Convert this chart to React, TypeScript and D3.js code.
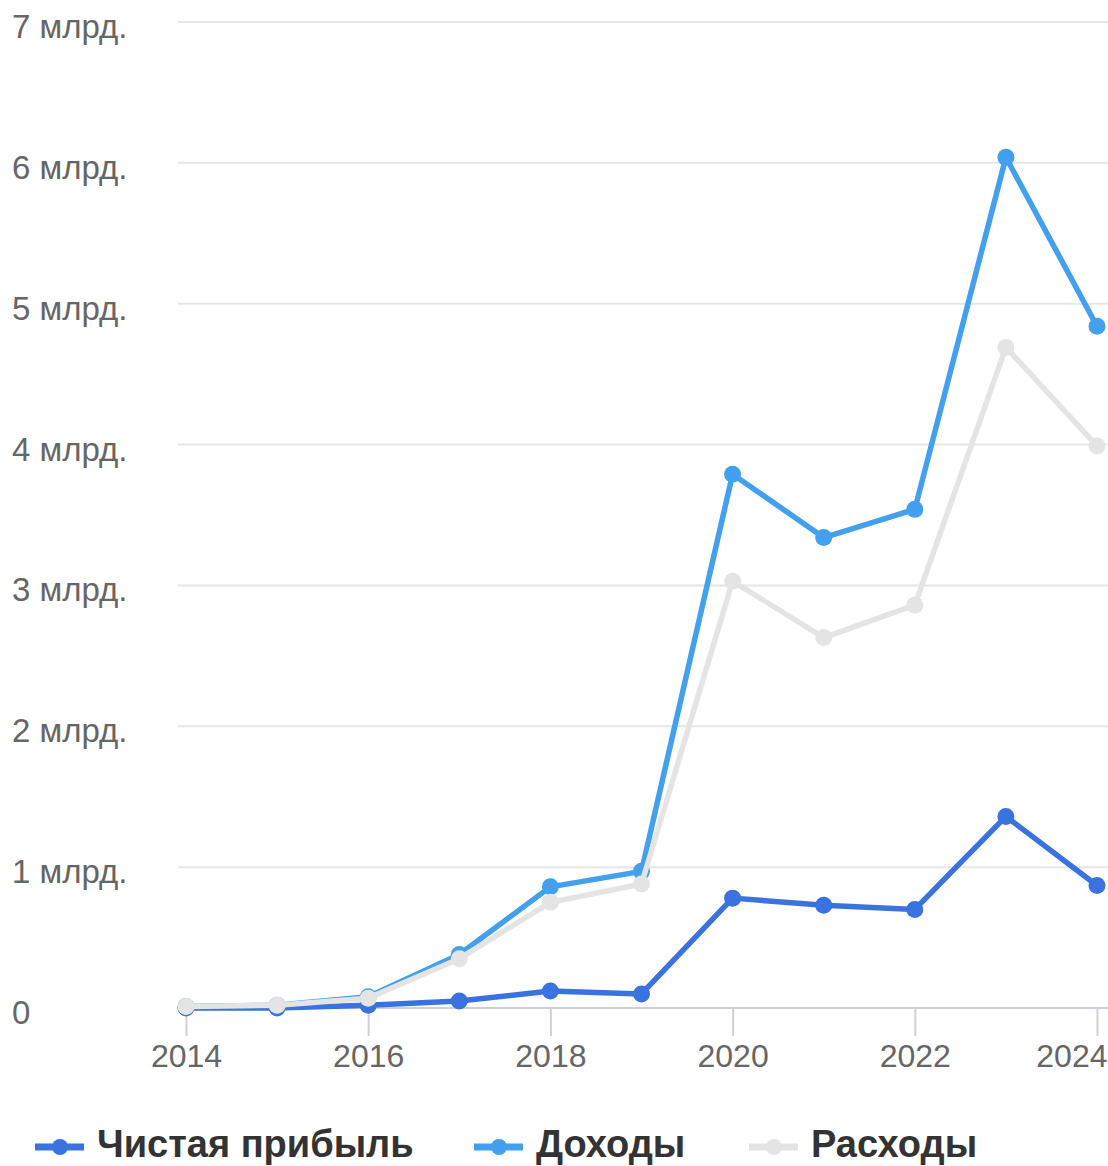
import { useEffect, useRef } from 'react';
import * as d3 from 'd3';

const years = [2014, 2015, 2016, 2017, 2018, 2019, 2020, 2021, 2022, 2023, 2024];

// values in billions
const netProfit = [0.0, 0.0, 0.02, 0.05, 0.12, 0.1, 0.78, 0.73, 0.7, 1.36, 0.87];
const income = [0.01, 0.02, 0.08, 0.38, 0.86, 0.97, 3.79, 3.34, 3.54, 6.04, 4.84];
const expenses = [0.01, 0.02, 0.07, 0.35, 0.75, 0.88, 3.03, 2.63, 2.86, 4.69, 3.99];

const yTicks = [0, 1, 2, 3, 4, 5, 6, 7];
const yTickLabels = ['0', '1 млрд.', '2 млрд.', '3 млрд.', '4 млрд.', '5 млрд.', '6 млрд.', '7 млрд.'];
const xTicks = [2014, 2016, 2018, 2020, 2022, 2024];

const seriesNames = ['Чистая прибыль', 'Доходы', 'Расходы'];
const seriesColors = ['#3a72e0', '#42a0ee', '#e4e4e4'];

function App() {
  const ref = useRef(null);

  const svgWidth = 1108;
  const svgHeight = 1166;

  useEffect(() => {
    getChart();
  }, []);

  function getChart() {
    const svg = d3.select(ref.current);
    svg.selectAll('*').remove();

    const left = 178;
    const x = d3.scaleLinear().domain([2014, 2024]).range([186, 1097]);
    const y = d3.scaleLinear().domain([0, 7]).range([1008, 22]);

    // Gridlines
    svg
      .append('g')
      .selectAll()
      .data(yTicks.filter((t) => t > 0))
      .join('line')
      .attr('x1', left)
      .attr('x2', svgWidth)
      .attr('y1', (d) => y(d))
      .attr('y2', (d) => y(d))
      .attr('stroke', '#e6e6e6')
      .attr('stroke-width', 2);

    // Y labels
    svg
      .append('g')
      .selectAll()
      .data(yTicks)
      .join('text')
      .attr('x', 12)
      .attr('y', (d) => y(d) + 16)
      .attr('fill', '#666')
      .attr('font-family', '"Liberation Sans", Arial, sans-serif')
      .attr('font-size', 33)
      .text((d, i) => yTickLabels[i]);

    // X axis
    const xAxis = svg
      .append('g')
      .attr('transform', `translate(0, ${y(0)})`)
      .call(
        d3
          .axisBottom(x)
          .tickValues(xTicks)
          .tickFormat((d) => String(d))
          .tickSize(28)
          .tickPadding(8)
          .tickSizeOuter(0)
      );
    xAxis.select('.domain').remove();
    xAxis.selectAll('.tick line').attr('stroke', '#d0d0d8').attr('stroke-width', 2);
    xAxis
      .selectAll('.tick text')
      .attr('fill', '#666')
      .attr('font-family', '"Liberation Sans", Arial, sans-serif')
      .attr('font-size', 32);
    // keep the last year label inside the frame
    xAxis
      .selectAll('.tick text')
      .filter((d) => d === 2024)
      .attr('text-anchor', 'end')
      .attr('dx', 10);
    svg
      .append('line')
      .attr('x1', left)
      .attr('x2', svgWidth)
      .attr('y1', y(0))
      .attr('y2', y(0))
      .attr('stroke', '#d0d0d8')
      .attr('stroke-width', 2);

    // Lines and points
    const seriesData = [netProfit, income, expenses];
    const line = d3
      .line<number>()
      .x((d, i) => x(years[i]))
      .y((d) => y(d));

    seriesData.forEach((values, s) => {
      const g = svg.append('g');
      g.append('path')
        .attr('d', line(values))
        .attr('fill', 'none')
        .attr('stroke', seriesColors[s])
        .attr('stroke-width', 5.5)
        .attr('stroke-linejoin', 'round');
      g.selectAll()
        .data(values)
        .join('circle')
        .attr('cx', (d, i) => x(years[i]))
        .attr('cy', (d) => y(d))
        .attr('r', 8.5)
        .attr('fill', seriesColors[s]);
    });

    // Legend
    const legendX = [35, 474, 749];
    const legendY = 1147;
    const legend = svg
      .append('g')
      .selectAll()
      .data(seriesNames)
      .join('g')
      .attr('transform', (d, i) => `translate(${legendX[i]}, ${legendY})`);
    legend
      .append('line')
      .attr('x1', 0)
      .attr('x2', 49)
      .attr('stroke', (d, i) => seriesColors[i])
      .attr('stroke-width', 7);
    legend
      .append('circle')
      .attr('cx', 25)
      .attr('r', 8)
      .attr('fill', (d, i) => seriesColors[i]);
    legend
      .append('text')
      .attr('x', 62)
      .attr('y', 10)
      .attr('fill', '#333')
      .attr('font-family', '"Liberation Sans", Arial, sans-serif')
      .attr('font-weight', 'bold')
      .attr('font-size', 38)
      .text((d) => d);
  }

  return (
    <svg
      ref={ref}
      width={svgWidth}
      height={svgHeight}
      style={{ position: 'absolute', left: 0, top: 0, background: '#fff' }}
    ></svg>
  );
}

export default App;
